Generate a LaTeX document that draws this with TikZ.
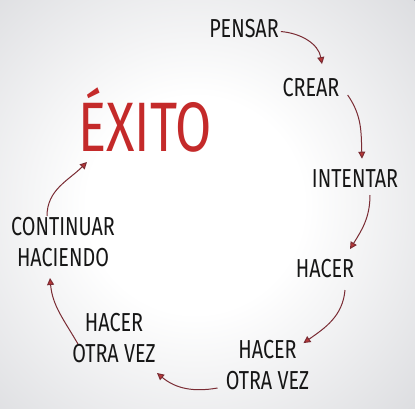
\documentclass[tikz,border=0pt]{standalone}
\usepackage{fontspec}
\setmainfont{Fira Sans}
\newfontfamily\hand{Fira Sans}[FakeStretch=0.76]
\newfontfamily\handbig{Fira Sans}[FakeStretch=0.75]
\usetikzlibrary{arrows.meta}
\definecolor{bgout}{HTML}{9EA2AC}
\definecolor{bgmid}{HTML}{D2D3D7}
\definecolor{inkred}{HTML}{C42A2A}
\definecolor{arrowc}{HTML}{7A2C34}
\definecolor{headc}{HTML}{B83838}
\definecolor{ink}{HTML}{161616}
\pgfdeclareradialshading{bgshade}{\pgfpoint{0bp}{0bp}}{color(0bp)=(white); color(9bp)=(white); color(30bp)=(bgmid); color(50bp)=(bgout)}
\tikzset{
  lbl/.style={font=\hand\fontsize{26}{31}\selectfont, text=ink, inner sep=0pt, anchor=south, align=center},
  goal/.style={font=\handbig\fontsize{70}{70}\selectfont, text=inkred, inner sep=0pt, anchor=south},
  flow/.style={draw=arrowc, line width=1pt, -{Triangle[length=7pt,width=7pt,fill=headc]}}
}
\begin{document}
\begin{tikzpicture}[x=1pt,y=1pt]
\useasboundingbox (0,0) rectangle (415,-408);
\fill[bgout] (0,0) rectangle (415,-408);
\clip (0,0) rectangle (415,-408);
\shade[shading=bgshade] (195,-205) circle (300);
\node[lbl]  (pensar) at (244,-38) {PENSAR};
\node[lbl]  (crear) at (311,-97) {CREAR};
\node[lbl]  (intentar) at (355,-188) {INTENTAR};
\node[lbl]  (hacer) at (325,-278) {HACER};
\node[lbl]  (otraA) at (267.5,-390) {HACER\\OTRA VEZ};
\node[lbl]  (otraB) at (114,-363) {HACER\\OTRA VEZ};
\node[lbl]  (cont) at (63,-267) {CONTINUAR\\HACIENDO};
\node[goal] (exito) at (145,-153) {ÉXITO};
\draw[flow] ([shift={(2,-3)}]pensar.east) to[out=-5,in=100] ([shift={(11,14)}]crear.north);
\draw[flow] ([shift={(8,2)}]crear.south east) to[out=-55,in=92] ([shift={(7,11)}]intentar.north);
\draw[flow] ([shift={(15,-7)}]intentar.south) to[out=-90,in=58] ([shift={(25,10)}]hacer.north);
\draw[flow] ([shift={(20,-12)}]hacer.south) to[out=-95,in=35] ([shift={(36,-3)}]otraA.north);
\draw[flow] ([shift={(-50,2)}]otraA.south) to[out=190,in=-40] ([shift={(43,-10)}]otraB.south);
\draw[flow] ([shift={(-36,-31)}]otraB.north) to[out=120,in=-85] ([shift={(-13,-11)}]cont.south);
\draw[flow] ([shift={(-16,1)}]cont.north) to[out=90,in=-135] ([shift={(-58,-9)}]exito.south);
\end{tikzpicture}
\end{document}
